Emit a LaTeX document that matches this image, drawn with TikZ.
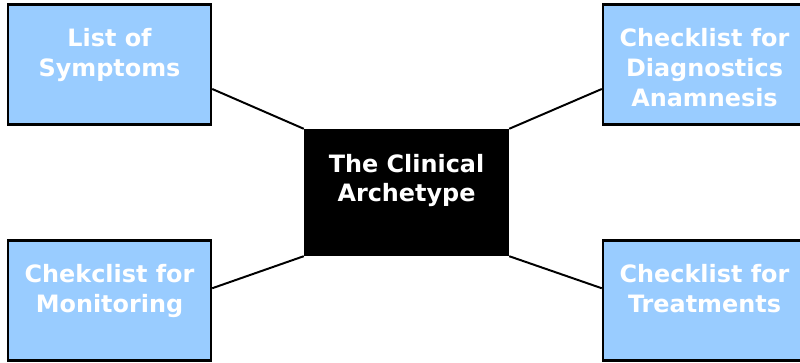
\documentclass[tikz,border=0pt]{standalone}
\usepackage{fontspec}
\setsansfont{DejaVu Sans}
\usetikzlibrary{positioning, calc}

\definecolor{cardblue}{RGB}{153,204,255}

\begin{document}
\begin{tikzpicture}[
		card/.style={draw, line width=1.7pt, fill=cardblue, minimum width=5.075cm, minimum height=3cm, inner sep=0pt},
		core/.style={card, fill=black, minimum height=3.125cm},
		cardtext/.style={inner sep=0pt, align=center, text=white, font=\sffamily\bfseries\fontsize{17}{21.3}\selectfont},
		link/.style={line width=1.4pt}]
		\useasboundingbox (0,0) rectangle (20,-9.075);
		% the archetype in the middle
		\node[core] (arch) at (10.1625,-4.8125) {};
		\node[cardtext, below=0.62cm of arch.north] (archtext) {The Clinical\\Archetype};
		% the four checklists round it
		\foreach \n/\x/\y/\t in {symp/2.7375/-1.6125/{List of\\Symptoms},
				diag/17.6125/-1.6125/{Checklist for\\Diagnostics\\Anamnesis},
				moni/2.7375/-7.5125/{Chekclist for\\Monitoring},
				treat/17.6125/-7.5125/{Checklist for\\Treatments}} {
			\node[card] (\n) at (\x,\y) {};
			\node[cardtext, below=0.62cm of \n.north] (\n text) {\t};
		}
		\draw[link] (arch.north west) -- ($(symp.north east)!0.7!(symp.south east)$);
		\draw[link] (arch.north east) -- ($(diag.north west)!0.7!(diag.south west)$);
		\draw[link] (arch.south west) -- ($(moni.north east)!0.4!(moni.south east)$);
		\draw[link] (arch.south east) -- ($(treat.north west)!0.4!(treat.south west)$);
	\end{tikzpicture}
\end{document}
